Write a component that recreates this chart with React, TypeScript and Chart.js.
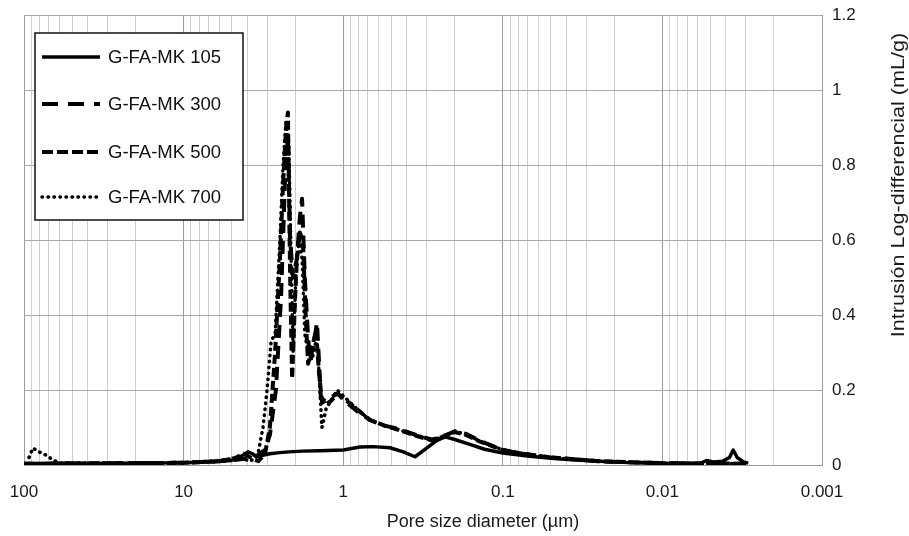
import { useEffect, useRef } from 'react';
import { Chart, registerables } from 'chart.js';

Chart.register(...registerables);

const seriesNames = ['G-FA-MK 105', 'G-FA-MK 300', 'G-FA-MK 500', 'G-FA-MK 700'];

// Pore diameter (µm) and log-differential intrusion (mL/g) per series
const d105 = [100, 70, 40, 20, 10, 7, 5, 4.4, 3.95, 3.7, 3.5, 3.2, 2.88, 2.5, 2.19, 1.8, 1.4, 1.0, 0.785, 0.65, 0.509, 0.42, 0.355, 0.3, 0.26, 0.23, 0.2, 0.161, 0.13, 0.1, 0.07, 0.05, 0.035, 0.0246, 0.018, 0.012, 0.008, 0.0058, 0.0053, 0.0048, 0.0042, 0.0038, 0.0036, 0.0034, 0.0031, 0.0029];
const v105 = [0.003, 0.004, 0.004, 0.005, 0.006, 0.008, 0.012, 0.022, 0.035, 0.03, 0.022, 0.026, 0.03, 0.033, 0.035, 0.037, 0.038, 0.04, 0.048, 0.049, 0.046, 0.035, 0.022, 0.045, 0.065, 0.075, 0.068, 0.055, 0.042, 0.032, 0.024, 0.018, 0.013, 0.01, 0.007, 0.005, 0.004, 0.004, 0.012, 0.008, 0.01, 0.02, 0.04, 0.02, 0.008, 0.005];

const d300 = [100, 50, 20, 10, 6, 4.4, 3.6, 3.09, 2.88, 2.64, 2.45, 2.32, 2.22, 2.15, 2.06, 1.95, 1.87, 1.81, 1.74, 1.66, 1.61, 1.52, 1.46, 1.38, 1.3, 1.21, 1.08, 0.975, 0.8, 0.68, 0.55, 0.44, 0.35, 0.28, 0.25, 0.2, 0.17, 0.14, 0.115, 0.1, 0.075, 0.05, 0.035, 0.025, 0.015, 0.01, 0.006, 0.004, 0.003];
const v300 = [0.003, 0.004, 0.005, 0.006, 0.01, 0.015, 0.02, 0.04, 0.08, 0.2, 0.45, 0.75, 0.88, 0.6, 0.5, 0.55, 0.66, 0.71, 0.5, 0.34, 0.28, 0.33, 0.38, 0.18, 0.17, 0.18, 0.19, 0.17, 0.14, 0.12, 0.105, 0.095, 0.08, 0.068, 0.072, 0.09, 0.083, 0.065, 0.05, 0.04, 0.03, 0.02, 0.015, 0.01, 0.007, 0.005, 0.004, 0.004, 0.003];

const d500 = [100, 50, 20, 10, 6, 4.8, 4.2, 3.8, 3.4, 3.09, 2.88, 2.67, 2.49, 2.38, 2.28, 2.22, 2.15, 2.09, 2.0, 1.95, 1.87, 1.79, 1.71, 1.66, 1.59, 1.48, 1.42, 1.36, 1.3, 1.2, 1.08, 0.975, 0.8, 0.68, 0.55, 0.44, 0.35, 0.28, 0.24, 0.2, 0.17, 0.14, 0.115, 0.1, 0.075, 0.05, 0.035, 0.025, 0.015, 0.01, 0.006, 0.004, 0.003];
const v500 = [0.003, 0.004, 0.005, 0.006, 0.01, 0.018, 0.03, 0.02, 0.01, 0.03, 0.1, 0.3, 0.55, 0.75, 0.9, 0.94, 0.5, 0.23, 0.45, 0.55, 0.62, 0.6, 0.38, 0.27, 0.3, 0.36, 0.25, 0.17, 0.16, 0.17, 0.19, 0.175, 0.145, 0.12, 0.105, 0.092, 0.078, 0.066, 0.075, 0.088, 0.08, 0.063, 0.05, 0.04, 0.03, 0.02, 0.015, 0.01, 0.007, 0.005, 0.004, 0.004, 0.003];

const d700 = [93, 88, 80.5, 71.8, 65.8, 59.5, 40, 20, 10, 6, 4.5, 3.8, 3.42, 3.18, 3.0, 2.83, 2.67, 2.49, 2.38, 2.28, 2.19, 2.12, 2.06, 1.98, 1.89, 1.81, 1.74, 1.66, 1.57, 1.48, 1.44, 1.36, 1.34, 1.28, 1.2, 1.09, 0.975, 0.8, 0.68, 0.55, 0.44, 0.35, 0.28, 0.24, 0.2, 0.17, 0.14, 0.115, 0.1, 0.075, 0.05, 0.035, 0.025, 0.015, 0.01, 0.006, 0.004, 0.003];
const v700 = [0.02, 0.045, 0.035, 0.025, 0.013, 0.006, 0.005, 0.005, 0.006, 0.012, 0.02, 0.01, 0.03, 0.1, 0.2, 0.33, 0.35, 0.6, 0.8, 0.92, 0.85, 0.55, 0.3, 0.5, 0.6, 0.55, 0.35, 0.3, 0.28, 0.33, 0.3, 0.1, 0.11, 0.15, 0.17, 0.2, 0.18, 0.145, 0.12, 0.105, 0.093, 0.08, 0.067, 0.074, 0.09, 0.082, 0.064, 0.05, 0.04, 0.03, 0.02, 0.015, 0.01, 0.007, 0.005, 0.004, 0.004, 0.003];

const xDecades = [100, 10, 1, 0.1, 0.01, 0.001];
const xDecadeLabels = ['100', '10', '1', '0.1', '0.01', '0.001'];
const xTitle = 'Pore size diameter (µm)';
const yTitle = 'Intrusión Log-differencial (mL/g)';
const yMin = 0;
const yMax = 1.2;
const yStep = 0.2;

const FONT = '"Liberation Sans", Arial, Helvetica, sans-serif';

const toPoints = (d: number[], v: number[]) => d.map((x, i) => ({ x, y: v[i] }));

const isDecade = (v: number) => xDecades.some((d) => Math.abs(v - d) / d < 1e-9);

const buildXTicks = () => {
  const ticks: { value: number; major: boolean }[] = [];
  const lo = Math.min(...xDecades);
  const hi = Math.max(...xDecades);
  for (let e = Math.round(Math.log10(lo)); e <= Math.round(Math.log10(hi)); e++) {
    for (let s = 1; s <= 9; s++) {
      const v = Number((s * Math.pow(10, e)).toPrecision(10));
      if (v >= lo - 1e-12 && v <= hi + 1e-9) ticks.push({ value: v, major: s === 1 });
    }
  }
  return ticks.reverse();
};

const overlayPlugin = {
  id: 'overlayText',
  afterDraw(chart: any) {
    const ctx = chart.ctx as CanvasRenderingContext2D;
    const ds = chart.data.datasets;
    ctx.save();
    // Legend box
    const bx = 35, by = 33, bw = 208, bh = 187;
    ctx.fillStyle = '#ffffff';
    ctx.fillRect(bx, by, bw, bh);
    ctx.strokeStyle = '#111';
    ctx.lineWidth = 1.5;
    ctx.setLineDash([]);
    ctx.strokeRect(bx, by, bw, bh);
    const rows = [57, 104, 152, 197];
    ds.forEach((d: any, i: number) => {
      const y = rows[i];
      ctx.beginPath();
      ctx.setLineDash(d.legendDash || []);
      ctx.lineCap = d.borderCapStyle || 'butt';
      ctx.lineWidth = d.borderWidth;
      ctx.strokeStyle = '#000';
      ctx.moveTo(42, y);
      ctx.lineTo(100, y);
      ctx.stroke();
      ctx.setLineDash([]);
      ctx.fillStyle = '#111';
      ctx.font = `18.5px ${FONT}`;
      ctx.textAlign = 'left';
      ctx.textBaseline = 'middle';
      ctx.fillText(d.label, 108, y + 1);
    });
    // X axis title
    ctx.fillStyle = '#1a1a1a';
    ctx.font = `18px ${FONT}`;
    ctx.textAlign = 'center';
    ctx.textBaseline = 'middle';
    ctx.fillText(xTitle, 483, 522);
    // Y axis title (reads bottom-to-top, on the right)
    ctx.translate(899, 185);
    ctx.rotate(-Math.PI / 2);
    ctx.scale(1.2, 1);
    ctx.font = `18px ${FONT}`;
    ctx.fillText(yTitle, 0, 0);
    ctx.restore();
  },
};

export default function App() {
  const ref = useRef<HTMLCanvasElement | null>(null);
  useEffect(() => {
    if (!ref.current) return;
    const mk = (label: string, d: number[], v: number[], dash: number[], legendDash: number[], width: number, cap: string) => ({
      label,
      data: toPoints(d, v),
      borderColor: '#000',
      backgroundColor: '#000',
      borderWidth: width,
      borderDash: dash,
      legendDash,
      borderCapStyle: cap,
      borderJoinStyle: 'round',
      pointRadius: 0,
      tension: 0,
      fill: false,
    });
    const chart = new Chart(ref.current, {
      type: 'line',
      data: {
        datasets: [
          mk(seriesNames[0], d105, v105, [], [], 3.5, 'butt'),
          mk(seriesNames[1], d300, v300, [13, 8], [16, 10], 4, 'butt'),
          mk(seriesNames[2], d500, v500, [9, 4], [11, 4], 4, 'butt'),
          mk(seriesNames[3], d700, v700, [0.5, 5.5], [0.5, 5.5], 3.5, 'round'),
        ] as any,
      },
      options: {
        animation: false,
        responsive: true,
        maintainAspectRatio: false,
        devicePixelRatio: 1,
        parsing: true,
        layout: { padding: { left: 24, top: 15, right: 0, bottom: 0 } },
        plugins: {
          legend: { display: false },
          tooltip: { enabled: false },
          title: { display: false },
        },
        scales: {
          x: {
            type: 'logarithmic',
            reverse: true,
            min: 0.001,
            max: 100,
            afterBuildTicks: (scale: any) => {
              scale.ticks = buildXTicks();
            },
            afterFit: (scale: any) => {
              scale.height = 71;
              scale.paddingLeft = 0;
              scale.paddingRight = 0;
            },
            grid: {
              drawTicks: false,
              lineWidth: 1,
              color: (c: any) => (c.tick && isDecade(c.tick.value) ? '#9c9c9c' : '#cfcfcf'),
            },
            border: { display: true, color: '#9c9c9c', width: 1 },
            ticks: {
              autoSkip: false,
              maxRotation: 0,
              minRotation: 0,
              padding: 17,
              color: '#1a1a1a',
              font: { family: FONT, size: 17 },
              callback: (value: any) => {
                const idx = xDecades.findIndex((d) => Math.abs(Number(value) - d) / d < 1e-9);
                return idx >= 0 ? xDecadeLabels[idx] : '';
              },
            },
          },
          y: {
            type: 'linear',
            position: 'right',
            min: yMin,
            max: yMax,
            afterFit: (scale: any) => {
              scale.width = 87;
              scale.paddingTop = 0;
              scale.paddingBottom = 0;
            },
            grid: { drawTicks: false, color: '#a8a8a8', lineWidth: 1 },
            border: { display: true, color: '#9c9c9c', width: 1 },
            ticks: {
              stepSize: yStep,
              padding: 10,
              color: '#1a1a1a',
              font: { family: FONT, size: 17 },
              callback: (value: any) => String(Number(Number(value).toFixed(1))),
            },
          },
        },
      } as any,
      plugins: [overlayPlugin],
    });
    return () => chart.destroy();
  }, []);
  return (
    <div style={{ position: 'fixed', left: 0, top: 0, width: 909, height: 536, background: '#fff' }}>
      <canvas ref={ref} />
    </div>
  );
}
